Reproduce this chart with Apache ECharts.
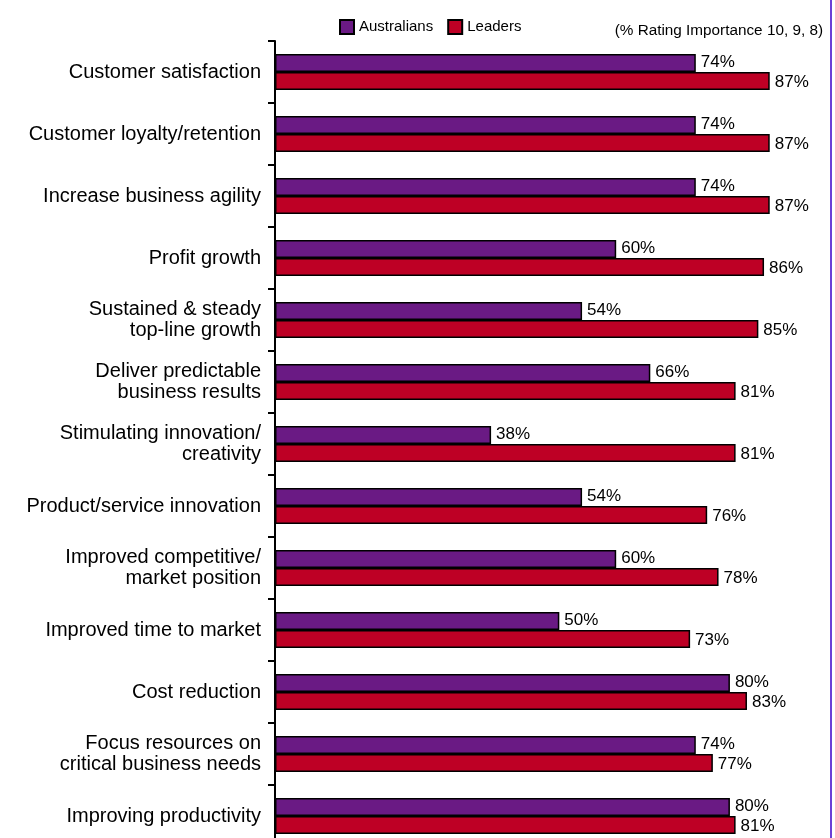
<!DOCTYPE html>
<html><head><meta charset="utf-8">
<script src="https://cdn.jsdelivr.net/npm/echarts@6/dist/echarts.min.js"></script>
<style>html,body{margin:0;padding:0;background:#fff}#c{width:835px;height:838px}</style>
</head><body><div id="c"></div>
<script>
const categories = [
  "Customer satisfaction",
  "Customer loyalty/retention",
  "Increase business agility",
  "Profit growth",
  "Sustained & steady\ntop-line growth",
  "Deliver predictable\nbusiness results",
  "Stimulating innovation/\ncreativity",
  "Product/service innovation",
  "Improved competitive/\nmarket position",
  "Improved time to market",
  "Cost reduction",
  "Focus resources on\ncritical business needs",
  "Improving productivity"
];
const australians = [74, 74, 74, 60, 54, 66, 38, 54, 60, 50, 80, 74, 80];
const leaders     = [87, 87, 87, 86, 85, 81, 81, 76, 78, 73, 83, 77, 81];
const noteText = "(% Rating Importance 10, 9, 8)";

const FONT = "Liberation Sans";
const chart = echarts.init(document.getElementById('c'), null, {renderer: 'canvas'});
const labelCfg = {
  show: true, position: 'right', distance: 5,
  formatter: '{c}%', color: '#000', fontSize: 17, fontFamily: FONT
};
chart.setOption({
  animation: false,
  textStyle: {fontFamily: FONT},
  legend: {
    left: 334, top: 14, itemWidth: 14, itemHeight: 14, itemGap: 14,
    icon: 'rect',
    textStyle: {fontSize: 15, color: '#000', fontFamily: FONT},
    data: ['Australians', 'Leaders']
  },
  graphic: [
    {type: 'text', right: 12, top: 23,
     style: {text: noteText, fontSize: 15.3, fill: '#000', fontFamily: FONT}},
    {type: 'rect', shape: {x: 830, y: 0, width: 2, height: 838},
     style: {fill: '#6c3fd6'}}
  ],
  grid: {left: 275, top: 41, width: 555, height: 806, outerBoundsMode: 'none', containLabel: false},
  xAxis: {type: 'value', min: 0, max: 97.6, show: false},
  yAxis: {
    type: 'category', data: categories, inverse: true,
    axisLine: {show: true, lineStyle: {color: '#000', width: 2}},
    axisTick: {show: true, length: 7, lineStyle: {color: '#000', width: 2}},
    axisLabel: {margin: 14, fontSize: 20, color: '#000', lineHeight: 21, fontFamily: FONT}
  },
  series: [
    {name: 'Australians', type: 'bar', data: australians, barWidth: 18, barGap: '0%',
     itemStyle: {color: '#6a1a84', borderColor: '#000', borderWidth: 1.5},
     label: Object.assign({}, labelCfg, {offset: [0, -1]})},
    {name: 'Leaders', type: 'bar', data: leaders, barWidth: 18, barGap: '0%',
     itemStyle: {color: '#be0025', borderColor: '#000', borderWidth: 1.5},
     label: Object.assign({}, labelCfg, {offset: [0, 1]})}
  ]
});
</script></body></html>
